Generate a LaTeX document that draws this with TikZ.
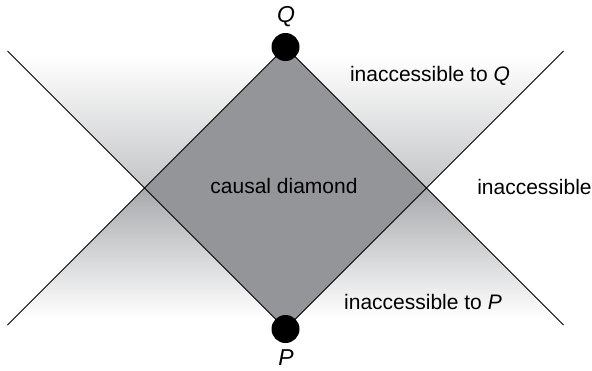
\documentclass[tikz,border=0pt]{standalone}
\usepackage{fontspec}
\setmainfont{Liberation Sans}
\definecolor{diamondgray}{HTML}{939598}
\definecolor{topgray}{HTML}{C4C5C7}
\definecolor{botgray}{HTML}{A7A9AC}
\tikzset{
  lbl/.style={font=\fontsize{21}{24}\selectfont, inner sep=0pt},
  ptlbl/.style={font=\fontsize{23}{25}\selectfont\itshape, inner sep=0pt},
  dot/.style={circle, fill=black, minimum size=28pt, inner sep=0pt},
  cone/.style={line width=0.8pt, black}
}
\begin{document}
\begin{tikzpicture}[x=1pt,y=-1pt]
\useasboundingbox (0,0) rectangle (592,370);
\coordinate (Qc) at (285.5,47);
\coordinate (Pc) at (285.5,329);
\coordinate (L) at (144.5,188);
\coordinate (R) at (426.5,188);
\coordinate (TL) at (7.5,51);
\coordinate (TR) at (563.5,51);
\coordinate (BL) at (7.5,325);
\coordinate (BR) at (563.5,325);
% future cone of P (top)
\begin{scope}
  \clip (TL) -- (TR) -- (Pc) -- cycle;
  \shade[top color=white, bottom color=topgray] (0,56) rectangle (592,188);
  \fill[white] (0,0) rectangle (592,56);
\end{scope}
% past cone of Q (bottom)
\begin{scope}
  \clip (BL) -- (BR) -- (Qc) -- cycle;
  \shade[top color=botgray, bottom color=white] (0,188) rectangle (592,318);
\end{scope}
% diamond
\fill[diamondgray] (Qc) -- (R) -- (Pc) -- (L) -- cycle;
% cone lines
\draw[cone] (TL) -- (Pc);
\draw[cone] (TR) -- (Pc);
\draw[cone] (BL) -- (Qc);
\draw[cone] (BR) -- (Qc);
% points
\node[dot] (Q) at (Qc) {};
\node[dot] (P) at (Pc) {};
\node[ptlbl] (Ql) at (286,17) {Q};
\node[ptlbl] (Pl) at (286,357.5) {P};
% labels
\node[lbl] (cd) at (284,186) {causal diamond};
\node[lbl] (ia) at (534.5,187) {inaccessible};
\node[lbl] (iq) at (430,76) {inaccessible to \textit{Q}};
\node[lbl] (ip) at (423,302) {inaccessible to \textit{P}};
\end{tikzpicture}
\end{document}
